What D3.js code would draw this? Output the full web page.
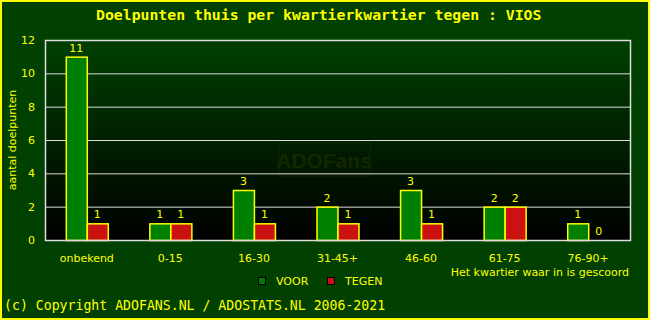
<!DOCTYPE html>
<html>
<head>
<meta charset="utf-8">
<script src="https://cdn.jsdelivr.net/npm/d3@7.9.0/dist/d3.min.js"></script>
<style>
  body { margin: 0; background: #004000; }
  svg { display: block; }
</style>
</head>
<body>
<svg id="chart" width="650" height="320"></svg>
<script>
const categories = ['onbekend', '0-15', '16-30', '31-45+', '46-60', '61-75', '76-90+'];
const voor = [11, 1, 3, 2, 3, 2, 1];
const tegen = [1, 1, 1, 1, 1, 2, 0];
const yTicks = [0, 2, 4, 6, 8, 10, 12];

const svg = d3.select('#chart');
const W = 650, H = 320;
const margin = { left: 45, right: 20, top: 40, bottom: 80 };
const yellow = '#ffff00';

// background + yellow frame
svg.append('rect').attr('x', 1).attr('y', 1).attr('width', W - 2).attr('height', H - 2)
  .attr('fill', '#004000').attr('stroke', yellow).attr('stroke-width', 2);

const defs = svg.append('defs');
const grad = defs.append('linearGradient').attr('id', 'bg').attr('x1', 0).attr('y1', 0).attr('x2', 0).attr('y2', 1);
grad.append('stop').attr('offset', '0%').attr('stop-color', '#004000');
grad.append('stop').attr('offset', '100%').attr('stop-color', '#000000');

const x = d3.scaleBand().domain(categories).range([margin.left, W - margin.right]);
const y = d3.scaleLinear().domain([0, 12]).range([H - margin.bottom, margin.top]);
const barW = 21;

svg.append('rect')
  .attr('x', margin.left).attr('y', margin.top)
  .attr('width', W - margin.left - margin.right).attr('height', H - margin.top - margin.bottom)
  .attr('fill', 'url(#bg)');

// watermark
const wm = svg.append('g').attr('opacity', 0.3);
wm.append('rect').attr('x', 279).attr('y', 143).attr('width', 91).attr('height', 33).attr('rx', 2)
  .attr('fill', 'none').attr('stroke', '#3d4a00').attr('stroke-width', 1.5).attr('stroke-dasharray', '2,1');
wm.append('text').attr('x', 324).attr('y', 168).attr('text-anchor', 'middle')
  .attr('font-family', 'Liberation Sans, Arial, sans-serif').attr('font-weight', 'bold')
  .attr('font-size', 21).attr('fill', '#3d4a00').text('ADOFans');

// grid
svg.append('g').selectAll('line').data(yTicks.slice(1, -1)).join('line')
  .attr('x1', margin.left).attr('x2', W - margin.right)
  .attr('y1', d => y(d) + 0.5).attr('y2', d => y(d) + 0.5)
  .attr('stroke', '#dddddd').attr('stroke-width', 1);

// y tick labels
svg.append('g').selectAll('text').data(yTicks).join('text')
  .attr('x', 35).attr('y', d => y(d)).attr('dy', '0.35em')
  .attr('text-anchor', 'end')
  .attr('font-family', 'DejaVu Sans, sans-serif').attr('font-size', 11)
  .attr('fill', yellow).text(d => d);

// bars
function drawSeries(vals, color, offset) {
  svg.append('g').selectAll('rect').data(vals).join('rect')
    .attr('x', (d, i) => x(categories[i]) + x.bandwidth() / 2 + offset + 0.5)
    .attr('y', d => y(d) + 0.5)
    .attr('width', barW)
    .attr('height', d => y(0) - y(d))
    .attr('fill', color)
    .attr('stroke', d => d > 0 ? yellow : 'none').attr('stroke-width', 1.5);
  svg.append('g').selectAll('text').data(vals).join('text')
    .attr('x', (d, i) => x(categories[i]) + x.bandwidth() / 2 + offset + barW / 2)
    .attr('y', d => y(d) - 9).attr('dy', '0.35em')
    .attr('text-anchor', 'middle')
    .attr('font-family', 'DejaVu Sans, sans-serif').attr('font-size', 11)
    .attr('fill', yellow).text(d => d);
}
drawSeries(voor, '#008000', -barW);
drawSeries(tegen, '#cc1111', 0);

// plot frame
svg.append('rect')
  .attr('x', margin.left + 0.5).attr('y', margin.top + 0.5)
  .attr('width', W - margin.left - margin.right).attr('height', H - margin.top - margin.bottom)
  .attr('fill', 'none').attr('stroke', '#dddddd').attr('stroke-width', 1.5);

// x labels
svg.append('g').selectAll('text').data(categories).join('text')
  .attr('x', d => x(d) + x.bandwidth() / 2).attr('y', 258).attr('dy', '0.35em')
  .attr('text-anchor', 'middle')
  .attr('font-family', 'DejaVu Sans, sans-serif').attr('font-size', 11)
  .attr('fill', yellow).text(d => d);

// title
svg.append('text').attr('x', 96).attr('y', 15).attr('dy', '0.35em')
  .attr('font-family', 'DejaVu Sans Mono, monospace').attr('font-weight', 'bold').attr('font-size', 14.8)
  .attr('fill', yellow).text('Doelpunten thuis per kwartierkwartier tegen : VIOS');

// y axis title
svg.append('text').attr('transform', 'translate(16,140) rotate(-90)')
  .attr('text-anchor', 'middle')
  .attr('font-family', 'DejaVu Sans, sans-serif').attr('font-size', 11)
  .attr('fill', yellow).text('aantal doelpunten');

// x axis title
svg.append('text').attr('x', 629).attr('y', 272).attr('dy', '0.35em').attr('text-anchor', 'end')
  .attr('font-family', 'DejaVu Sans, sans-serif').attr('font-size', 11)
  .attr('fill', yellow).text('Het kwartier waar in is gescoord');

// legend
const legend = [{ label: 'VOOR', color: '#008000', x: 258 }, { label: 'TEGEN', color: '#cc1111', x: 327 }];
legend.forEach(d => {
  svg.append('rect').attr('x', d.x + 0.5).attr('y', 277.5).attr('width', 7).attr('height', 7)
    .attr('fill', d.color).attr('stroke', '#000').attr('stroke-width', 1);
  svg.append('text').attr('x', d.x + 18).attr('y', 281).attr('dy', '0.35em')
    .attr('font-family', 'DejaVu Sans, sans-serif').attr('font-size', 11)
    .attr('fill', yellow).text(d.label);
});

// copyright
svg.append('text').attr('x', 4).attr('y', 305).attr('dy', '0.35em')
  .attr('font-family', 'DejaVu Sans Mono, monospace').attr('font-size', 13.2)
  .attr('fill', yellow).text('(c) Copyright ADOFANS.NL / ADOSTATS.NL 2006-2021');
</script>
</body>
</html>
